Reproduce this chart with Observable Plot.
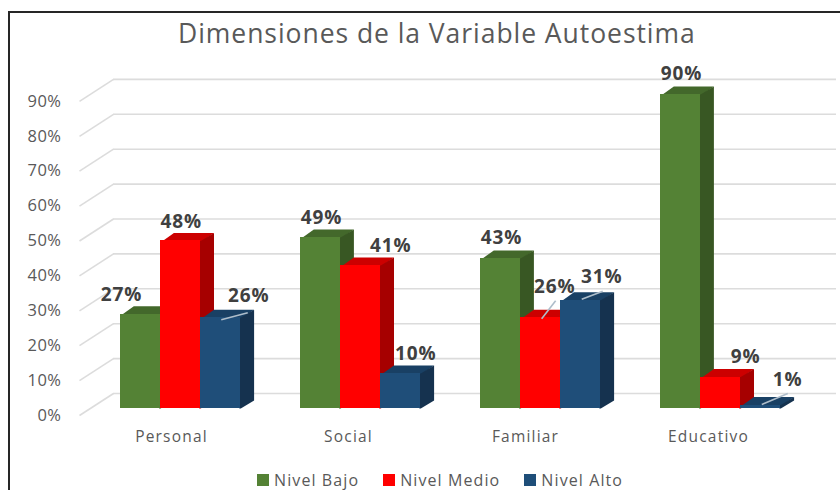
<!DOCTYPE html>
<html><head><meta charset="utf-8">
<script src="https://cdn.jsdelivr.net/npm/d3@7"></script>
<script src="https://cdn.jsdelivr.net/npm/@observablehq/plot@0.6"></script>
<style>
html,body{margin:0;padding:0;background:#fff;width:840px;height:490px;overflow:hidden;font-family:"Open Sans",sans-serif}
#frame{position:absolute;left:8px;top:11px;width:830px;height:477px;border-left:2px solid #262626;border-top:2px solid #262626}
#title{position:absolute;left:178px;top:14px;font-size:26.5px;line-height:38px;color:#595959;letter-spacing:.95px;white-space:nowrap}
#chart{position:absolute;left:0;top:55px}
#legend{position:absolute;left:257px;top:471px;display:flex;font-size:16px;line-height:18px;color:#595959;letter-spacing:1.1px}
#legend span{display:flex;align-items:center;white-space:nowrap}
#legend i{display:inline-block;width:12px;height:12px;margin-right:5px}
.axis text{letter-spacing:.5px}
.cats text{letter-spacing:1.2px}
.vals text{letter-spacing:.9px}
</style></head><body>
<div id="frame"></div>
<div id="title"></div>
<div id="chart"></div>
<div id="legend"></div>
<script>
const titleText = "Dimensiones de la Variable Autoestima";
const categories = ["Personal", "Social", "Familiar", "Educativo"];
const levels = ["Nivel Bajo", "Nivel Medio", "Nivel Alto"];
const nivelBajo = [27, 49, 43, 90];
const nivelMedio = [48, 41, 26, 9];
const nivelAlto = [26, 10, 31, 1];
const series = [nivelBajo, nivelMedio, nivelAlto];
const yTicks = [0, 10, 20, 30, 40, 50, 60, 70, 80, 90];

// colours: [front, top, side] of each level
const faceColors = [
  ["#548235", "#43682b", "#385723"],
  ["#ff0000", "#cc0000", "#a60000"],
  ["#1f4e79", "#194064", "#15324f"]
];

// layout helpers: pixels expressed in data units of the two scales
const W = 840, H = 395, mL = 81, mR = 3, mT = 4, mB = 42;
const xMax = 4.2, yMax = 100;
const ux = (W - mL - mR) / xMax, uy = (H - mT - mB) / yMax;
const px = p => p / ux, py = p => -p / uy; // py: pixels downward -> value units
const barW = px(40.1), barStart = px(39), depthX = px(13.3), depthY = 8 / uy;
const tuckX = px(1.5), tuckY = 1.5 / uy; // faces tuck under the front rectangle so no seam shows

// label offsets in px from the top-centre of the bar's front face
const labelDx = [[-19, 0.5, 28], [1, 30, 15], [1, 14, 21], [1, 25, 27]];
const labelDy = [[-19, -19.5, -22], [-20, -20, -20], [-21, -31, -23], [-20, -20.5, -25.5]];
const catNudge = [0, -3, -6, -3];
// leader lines: category, level, start and end offset in px
const leaders = [
  {c: 0, l: 2, a: [0.5, 2], b: [27, -5]},
  {c: 2, l: 1, a: [1, 1], b: [15, -17]},
  {c: 2, l: 2, a: [1, -1], b: [22, -9]},
  {c: 3, l: 2, a: [1, -0.5], b: [27, -11.5]}
];

const bars = series.flatMap((vals, l) => vals.map((v, c) => {
  const x1 = c + barStart + l * barW;
  return {c, l, v, x1, x2: x1 + barW, xm: x1 + barW / 2};
}));

function faces(l) {
  const out = [];
  bars.filter(b => b.l === l).forEach(b => {
    const top = [[b.x1, b.v - tuckY], [b.x2, b.v - tuckY], [b.x2 + depthX, b.v + depthY], [b.x1 + depthX, b.v + depthY]];
    const side = [[b.x2 - tuckX, 0], [b.x2, 0], [b.x2 + depthX, depthY], [b.x2 + depthX, b.v + depthY], [b.x2, b.v], [b.x2 - tuckX, b.v]];
    top.forEach(p => out.push({id: b.c + "-top", x: p[0], y: p[1], fill: faceColors[l][1]}));
    side.forEach(p => out.push({id: b.c + "-side", x: p[0], y: p[1], fill: faceColors[l][2]}));
  });
  return out;
}

const gridGap = py(-15), floorGap = py(7);
const slantX1 = px(-2), slantX2 = px(32);

const barMarks = levels.flatMap((_, l) => [
  Plot.line(faces(l), {x: "x", y: "y", z: "id", fill: "fill", stroke: null, curve: "linear-closed"}),
  Plot.rect(bars.filter(b => b.l === l), {x1: "x1", x2: "x2", y1: 0, y2: "v", fill: faceColors[l][0], shapeRendering: "crispEdges"})
]);

const chart = Plot.plot({
  width: W, height: H,
  marginLeft: mL, marginRight: mR, marginTop: mT, marginBottom: mB,
  x: {domain: [0, xMax], axis: null},
  y: {domain: [0, yMax]},
  style: {background: "transparent", overflow: "visible", fontFamily: "'Open Sans',sans-serif"},
  marks: [
    Plot.link(yTicks, {x1: slantX1, x2: slantX2, y1: d => d + floorGap, y2: d => d + gridGap, stroke: "#dcdcdc", strokeWidth: 1.6}),
    Plot.ruleY(yTicks, {x1: slantX2, x2: xMax - px(1), y: d => d + gridGap, stroke: "#dcdcdc", strokeWidth: 1.6}),
    Plot.axisY({ticks: yTicks, tickFormat: d => d + "%", tickSize: 0, tickPadding: 20, dy: 7, fontSize: 16.5, color: "#595959", label: null, className: "axis"}),
    ...barMarks,
    Plot.link(leaders, {
      x1: d => bars.find(b => b.c === d.c && b.l === d.l).xm + px(d.a[0]),
      y1: d => bars.find(b => b.c === d.c && b.l === d.l).v + py(d.a[1]),
      x2: d => bars.find(b => b.c === d.c && b.l === d.l).xm + px(d.b[0]),
      y2: d => bars.find(b => b.c === d.c && b.l === d.l).v + py(d.b[1]),
      stroke: "#aebdca", strokeWidth: 1.6
    }),
    Plot.text(bars, {
      x: d => d.xm + px(labelDx[d.c][d.l]),
      y: d => d.v + py(labelDy[d.c][d.l]),
      text: d => d.v + "%",
      fontSize: 19, fontWeight: 700, fill: "#404040", textAnchor: "middle", className: "vals"
    }),
    Plot.text(categories, {
      x: (d, i) => i + 0.5 + px(catNudge[i]),
      y: py(29),
      text: d => d,
      fontSize: 15.5, fill: "#595959", textAnchor: "middle", className: "cats"
    })
  ]
});
document.getElementById("chart").appendChild(chart);
document.getElementById("title").textContent = titleText;

const legendGaps = [0, 24, 24];
const legend = document.getElementById("legend");
levels.forEach((name, l) => {
  const s = document.createElement("span");
  s.style.marginLeft = legendGaps[l] + "px";
  const i = document.createElement("i");
  i.style.background = faceColors[l][0];
  s.appendChild(i);
  s.appendChild(document.createTextNode(name));
  legend.appendChild(s);
});
</script>
</body></html>
